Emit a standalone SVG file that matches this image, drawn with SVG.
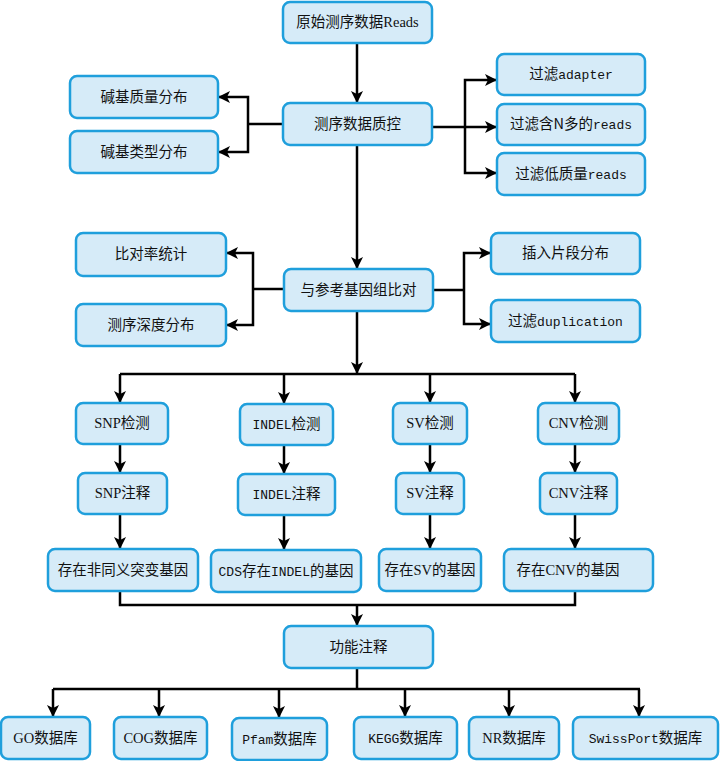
<svg xmlns="http://www.w3.org/2000/svg" width="720" height="761" viewBox="0 0 720 761">
<defs>
<style>
.box{fill:#d6ebf8;stroke:#1f9fdc;stroke-width:2.5}
.t{font-family:"Noto Sans CJK SC","Noto Sans",sans-serif;font-size:14.5px;fill:#111;text-anchor:middle}
.m{font-family:"Liberation Mono",monospace;font-size:13px}
.s{font-family:"Liberation Serif",serif;font-size:14.5px}
.c{fill:none;stroke:#000;stroke-width:2.5}
</style>
<marker id="ah" viewBox="0 0 12 12" refX="11" refY="6" markerWidth="12" markerHeight="12" markerUnits="userSpaceOnUse" orient="auto">
<path d="M0,0 L12,6 L0,12 L3,6 z" fill="#000"/>
</marker>
</defs>
<rect width="720" height="761" fill="#fff"/>
<g id="connectors">
<path class="c" d="M357,43 V102" marker-end="url(#ah)"/>
<path class="c" d="M283,124 H248"/>
<path class="c" d="M248,124 V97 H219" marker-end="url(#ah)"/>
<path class="c" d="M248,124 V152 H219" marker-end="url(#ah)"/>
<path class="c" d="M432,127 H496" marker-end="url(#ah)"/>
<path class="c" d="M465,127 V80 H496" marker-end="url(#ah)"/>
<path class="c" d="M465,127 V173 H496" marker-end="url(#ah)"/>
<path class="c" d="M357,145 V268" marker-end="url(#ah)"/>
<path class="c" d="M284,289 H253"/>
<path class="c" d="M253,289 V253 H227" marker-end="url(#ah)"/>
<path class="c" d="M253,289 V325 H227" marker-end="url(#ah)"/>
<path class="c" d="M433,290 H464"/>
<path class="c" d="M464,290 V253 H490" marker-end="url(#ah)"/>
<path class="c" d="M464,290 V324 H490" marker-end="url(#ah)"/>
<path class="c" d="M357,311 V373" marker-end="url(#ah)"/>
<path class="c" d="M120,374 H575"/>
<path class="c" d="M120,374 V402" marker-end="url(#ah)"/>
<path class="c" d="M284,374 V403" marker-end="url(#ah)"/>
<path class="c" d="M430,374 V402" marker-end="url(#ah)"/>
<path class="c" d="M575,374 V402" marker-end="url(#ah)"/>
<path class="c" d="M120,444 V472" marker-end="url(#ah)"/>
<path class="c" d="M284,445 V473" marker-end="url(#ah)"/>
<path class="c" d="M430,444 V472" marker-end="url(#ah)"/>
<path class="c" d="M575,444 V472" marker-end="url(#ah)"/>
<path class="c" d="M120,514 V548" marker-end="url(#ah)"/>
<path class="c" d="M284,515 V549" marker-end="url(#ah)"/>
<path class="c" d="M430,514 V548" marker-end="url(#ah)"/>
<path class="c" d="M575,514 V548" marker-end="url(#ah)"/>
<path class="c" d="M120,591 V605 H575 V591"/>
<path class="c" d="M357,605 V625" marker-end="url(#ah)"/>
<path class="c" d="M357,668 V689"/>
<path class="c" d="M53,689 H640"/>
<path class="c" d="M53,689 V716" marker-end="url(#ah)"/>
<path class="c" d="M159,689 V716" marker-end="url(#ah)"/>
<path class="c" d="M279,689 V717" marker-end="url(#ah)"/>
<path class="c" d="M405,689 V716" marker-end="url(#ah)"/>
<path class="c" d="M509,689 V716" marker-end="url(#ah)"/>
<path class="c" d="M639,689 V716" marker-end="url(#ah)"/>
</g>
<g id="n_raw"><rect class="box" x="283" y="2" width="149" height="41" rx="7"/><text class="t" x="357.5" y="27">原始测序数据<tspan class="s">Reads</tspan></text></g>
<g id="n_qc"><rect class="box" x="283" y="103" width="149" height="42" rx="7"/><text class="t" x="357.5" y="129">测序数据质控</text></g>
<g id="n_bq"><rect class="box" x="70" y="76" width="148" height="42" rx="7"/><text class="t" x="144" y="102">碱基质量分布</text></g>
<g id="n_bt"><rect class="box" x="70" y="131" width="148" height="42" rx="7"/><text class="t" x="144" y="157">碱基类型分布</text></g>
<g id="n_fa"><rect class="box" x="497" y="54" width="148" height="41" rx="7"/><text class="t" x="571" y="79">过滤<tspan class="m">adapter</tspan></text></g>
<g id="n_fn"><rect class="box" x="497" y="104" width="148" height="41" rx="7"/><text class="t" x="571" y="129">过滤含N多的<tspan class="m">reads</tspan></text></g>
<g id="n_fl"><rect class="box" x="497" y="153" width="148" height="42" rx="7"/><text class="t" x="571" y="179">过滤低质量<tspan class="m">reads</tspan></text></g>
<g id="n_align"><rect class="box" x="284" y="269" width="149" height="42" rx="7"/><text class="t" x="358.5" y="295">与参考基因组比对</text></g>
<g id="n_rate"><rect class="box" x="76" y="233" width="150" height="43" rx="7"/><text class="t" x="151" y="259">比对率统计</text></g>
<g id="n_depth"><rect class="box" x="76" y="304" width="150" height="42" rx="7"/><text class="t" x="151" y="330">测序深度分布</text></g>
<g id="n_insert"><rect class="box" x="491" y="233" width="149" height="41" rx="7"/><text class="t" x="565.5" y="258">插入片段分布</text></g>
<g id="n_dup"><rect class="box" x="491" y="300" width="149" height="42" rx="7"/><text class="t" x="565.5" y="326">过滤<tspan class="m">duplication</tspan></text></g>
<g id="n_snp"><rect class="box" x="76" y="403" width="92" height="41" rx="7"/><text class="t" x="122" y="428"><tspan class="s">SNP</tspan>检测</text></g>
<g id="n_indel"><rect class="box" x="240" y="404" width="93" height="41" rx="7"/><text class="t" x="286.5" y="429"><tspan class="m">INDEL</tspan>检测</text></g>
<g id="n_sv"><rect class="box" x="393" y="403" width="74" height="41" rx="7"/><text class="t" x="430" y="428"><tspan class="s">SV</tspan>检测</text></g>
<g id="n_cnv"><rect class="box" x="538" y="403" width="81" height="41" rx="7"/><text class="t" x="578.5" y="428"><tspan class="s">CNV</tspan>检测</text></g>
<g id="n_snp_a"><rect class="box" x="78" y="473" width="89" height="41" rx="7"/><text class="t" x="122.5" y="498"><tspan class="s">SNP</tspan>注释</text></g>
<g id="n_indel_a"><rect class="box" x="238" y="474" width="97" height="41" rx="7"/><text class="t" x="286.5" y="499"><tspan class="m">INDEL</tspan>注释</text></g>
<g id="n_sv_a"><rect class="box" x="396" y="473" width="68" height="41" rx="7"/><text class="t" x="430" y="498"><tspan class="s">SV</tspan>注释</text></g>
<g id="n_cnv_a"><rect class="box" x="540" y="473" width="77" height="41" rx="7"/><text class="t" x="578.5" y="498"><tspan class="s">CNV</tspan>注释</text></g>
<g id="n_snp_g"><rect class="box" x="48" y="549" width="150" height="42" rx="7"/><text class="t" x="123" y="575">存在非同义突变基因</text></g>
<g id="n_indel_g"><rect class="box" x="211" y="550" width="150" height="42" rx="7"/><text class="t" x="286" y="576"><tspan class="m">CDS</tspan>存在<tspan class="m">INDEL</tspan>的基因</text></g>
<g id="n_sv_g"><rect class="box" x="379" y="549" width="102" height="42" rx="7"/><text class="t" x="430" y="575">存在<tspan class="s">SV</tspan>的基因</text></g>
<g id="n_cnv_g"><rect class="box" x="504" y="549" width="149" height="42" rx="7"/><text class="t" x="568" y="575">存在<tspan class="s">CNV</tspan>的基因</text></g>
<g id="n_func"><rect class="box" x="284" y="626" width="149" height="42" rx="7"/><text class="t" x="358.5" y="652">功能注释</text></g>
<g id="n_go"><rect class="box" x="1" y="717" width="89" height="42" rx="7"/><text class="t" x="45.5" y="743"><tspan class="s">GO</tspan>数据库</text></g>
<g id="n_cog"><rect class="box" x="114" y="717" width="93" height="42" rx="7"/><text class="t" x="160.5" y="743"><tspan class="s">COG</tspan>数据库</text></g>
<g id="n_pfam"><rect class="box" x="232" y="718" width="95" height="42" rx="7"/><text class="t" x="279.5" y="744"><tspan class="m">Pfam</tspan>数据库</text></g>
<g id="n_kegg"><rect class="box" x="354" y="717" width="103" height="42" rx="7"/><text class="t" x="405.5" y="743"><tspan class="m">KEGG</tspan>数据库</text></g>
<g id="n_nr"><rect class="box" x="469" y="717" width="90" height="42" rx="7"/><text class="t" x="514" y="743"><tspan class="s">NR</tspan>数据库</text></g>
<g id="n_swiss"><rect class="box" x="573" y="717" width="145" height="42" rx="7"/><text class="t" x="645.5" y="743"><tspan class="m">SwissPort</tspan>数据库</text></g>
</svg>
